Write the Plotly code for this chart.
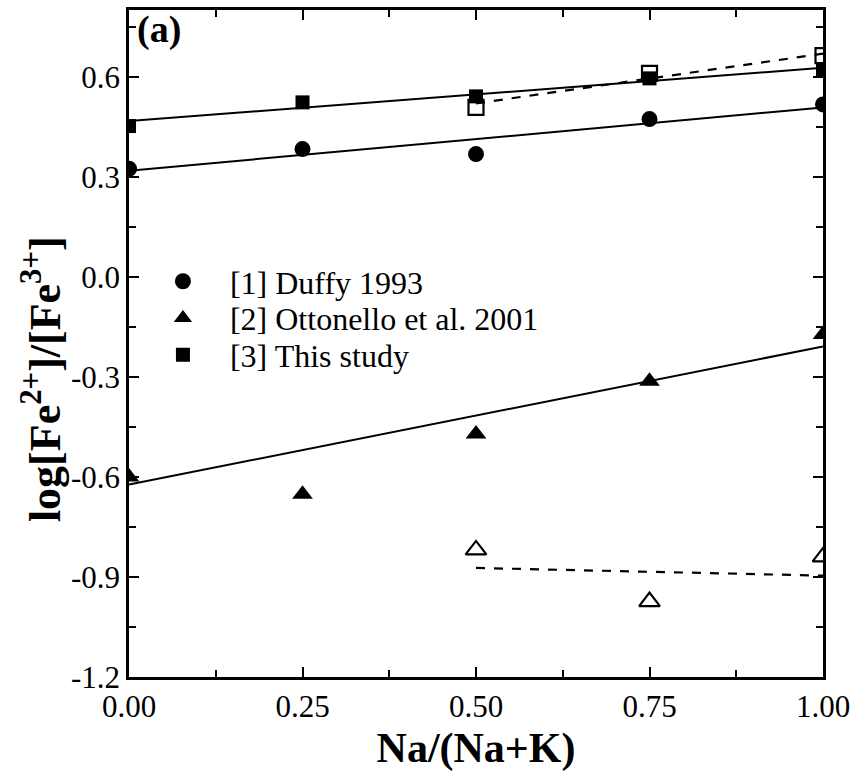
import plotly.graph_objects as go

x_all = [0.0, 0.25, 0.5, 0.75, 1.0]
duffy_y = [0.324, 0.383, 0.368, 0.473, 0.517]
ottonello_y = [-0.600, -0.652, -0.471, -0.313, -0.173]
study_y = [0.452, 0.523, 0.541, 0.595, 0.621]

x_open = [0.5, 0.75, 1.0]
study_open_y = [0.508, 0.610, 0.663]
ottonello_open_y = [-0.819, -0.974, -0.840]

fit_x = [0.0, 1.0]
duffy_fit = [0.318, 0.508]
study_fit = [0.467, 0.627]
ottonello_fit = [-0.623, -0.209]
fit_open_x = [0.5, 1.0]
study_open_fit = [0.520, 0.669]
ottonello_open_fit = [-0.873, -0.896]

y_ticks = [-1.2, -0.9, -0.6, -0.3, 0.0, 0.3, 0.6]
y_tick_text = ["-1.2", "-0.9", "-0.6", "-0.3", "0.0", "0.3", "0.6"]
x_ticks = [0.0, 0.25, 0.5, 0.75, 1.0]
x_tick_text = ["0.00", "0.25", "0.50", "0.75", "1.00"]

FONT = "Liberation Serif"
fig = go.Figure()

line_solid = dict(color="black", width=2)
line_dash = dict(color="black", width=2.2, dash="dash")
for fy in [duffy_fit, study_fit, ottonello_fit]:
    fig.add_trace(go.Scatter(x=fit_x, y=fy, mode="lines", line=line_solid, showlegend=False, hoverinfo="skip"))
for fy in [study_open_fit, ottonello_open_fit]:
    fig.add_trace(go.Scatter(x=fit_open_x, y=fy, mode="lines", line=line_dash, showlegend=False, hoverinfo="skip"))

fig.add_trace(go.Scatter(x=x_all, y=duffy_y, mode="markers", name="[1] Duffy 1993", legend="legend",
                         marker=dict(symbol="circle", size=16, color="black")))
fig.add_trace(go.Scatter(x=x_all, y=ottonello_y, mode="markers", name="[2] Ottonello et al. 2001", legend="legend2",
                         marker=dict(symbol="triangle-up", size=18, color="black")))
fig.add_trace(go.Scatter(x=x_all, y=study_y, mode="markers", name="[3] This study", legend="legend3",
                         marker=dict(symbol="square", size=14, color="black")))
fig.add_trace(go.Scatter(x=x_open, y=study_open_y, mode="markers", showlegend=False,
                         marker=dict(symbol="square-open", size=15, color="black", line=dict(width=2.2))))
fig.add_trace(go.Scatter(x=x_open, y=ottonello_open_y, mode="markers", showlegend=False,
                         marker=dict(symbol="triangle-up-open", size=18, color="black", line=dict(width=2.2))))

axis_common = dict(showline=True, linecolor="black", linewidth=2.5, mirror="ticks",
                   ticks="inside", ticklen=10, tickwidth=2, tickcolor="black",
                   showgrid=False, zeroline=False,
                   tickfont=dict(family=FONT, size=31, color="black"))

fig.update_xaxes(range=[0, 1], tickvals=x_ticks, ticktext=x_tick_text,
                 minor=dict(ticks="inside", ticklen=7, tickwidth=2, tickcolor="black", dtick=0.125, showgrid=False),
                 title=dict(text="<b>Na/(Na+K)</b>", font=dict(family=FONT, size=42, color="black"), standoff=10),
                 **axis_common)
fig.update_yaxes(range=[-1.2, 0.8], tickvals=y_ticks, ticktext=y_tick_text,
                 minor=dict(ticks="inside", ticklen=7, tickwidth=2, tickcolor="black", dtick=0.15, tick0=0, showgrid=False),
                 **axis_common)

fig.add_annotation(text="<b>log[Fe<sup>2+</sup>]/[Fe<sup>3+</sup>]</b>", textangle=-90,
                   x=-0.125, y=0.447, xref="paper", yref="paper",
                   xanchor="center", yanchor="middle", showarrow=False,
                   font=dict(family=FONT, size=44, color="black"))

fig.add_annotation(text="<b>(a)</b>", x=0.008, y=0.971, xref="paper", yref="paper",
                   xanchor="left", yanchor="middle", showarrow=False,
                   font=dict(family=FONT, size=38, color="black"))

leg_common = dict(x=0.01, xanchor="left", yanchor="middle",
                  font=dict(family=FONT, size=32, color="black"),
                  bgcolor="rgba(0,0,0,0)", itemwidth=84)

fig.update_layout(
    width=857, height=777,
    margin=dict(l=129, r=31, t=7, b=100),
    paper_bgcolor="white", plot_bgcolor="white",
    legend=dict(y=0.593, **leg_common),
    legend2=dict(y=0.538, **leg_common),
    legend3=dict(y=0.483, **leg_common),
)

fig.write_html("out.html")
